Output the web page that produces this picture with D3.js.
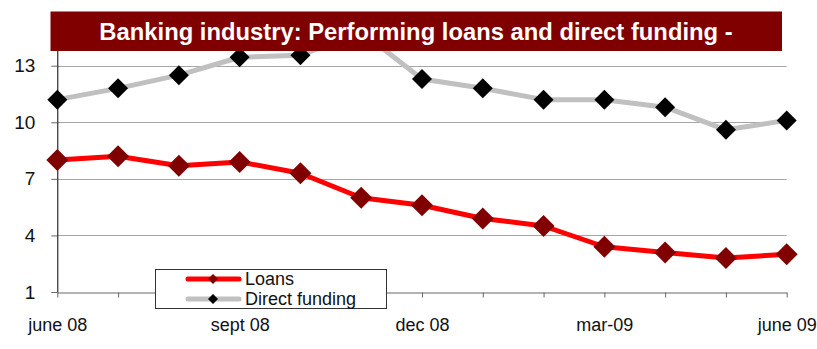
<!DOCTYPE html>
<html>
<head>
<meta charset="utf-8">
<script src="https://cdn.jsdelivr.net/npm/d3@7"></script>
<style>
  body { margin: 0; background: #fff; }
  text { font-family: "Liberation Sans", Arial, sans-serif; }
</style>
</head>
<body>
<div id="chart"></div>
<script>
'use strict';

// chart data
var months = ['june 08', 'jul 08', 'aug 08', 'sept 08', 'oct 08', 'nov 08', 'dec 08',
              'jan 09', 'feb 09', 'mar-09', 'apr 09', 'may 09', 'june 09'];
var loans = [8.0, 8.2, 7.7, 7.9, 7.3, 6.0, 5.6, 4.9, 4.5, 3.4, 3.1, 2.8, 3.0];
var directFunding = [11.2, 11.8, 12.5, 13.45, 13.55, 14.8, 12.3, 11.8, 11.2, 11.2, 10.8, 9.6, 10.1];
var yTicks = [1, 4, 7, 10, 13];
var titleText = 'Banking industry: Performing loans and direct funding -';

var width = 817,
    height = 349;

var svg = d3.select('#chart').append('svg')
    .attr('width', width)
    .attr('height', height);

var x = d3.scalePoint()
    .domain(months)
    .range([57.3, 786.7]);

var y = d3.scaleLinear()
    .domain([1, 15])
    .range([292, 28]);

// gridlines
svg.append('g')
    .selectAll('line')
    .data(yTicks.filter(function(d) { return d > 1; }))
    .enter()
    .append('line')
    .attr('x1', x.range()[0])
    .attr('x2', x.range()[1])
    .attr('y1', function(d) { return Math.round(y(d)) + 0.5; })
    .attr('y2', function(d) { return Math.round(y(d)) + 0.5; })
    .attr('stroke', '#a6a6a6')
    .attr('stroke-width', 1);

// x axis
var xAxis = svg.append('g')
    .attr('transform', 'translate(0,' + (y(1) + 0.5) + ')')
    .call(d3.axisBottom(x)
        .tickSize(5)
        .tickSizeOuter(0)
        .tickPadding(21)
        .tickFormat(function(d, i) { return i % 3 === 0 ? d : ''; }));
xAxis.select('.domain').attr('stroke', '#666');
xAxis.selectAll('.tick line').attr('stroke', '#666');
xAxis.selectAll('text')
    .attr('font-size', 18)
    .attr('font-family', '"Liberation Sans", Arial, sans-serif')
    .attr('fill', '#111');

// y axis
var yAxis = svg.append('g')
    .attr('transform', 'translate(' + (x.range()[0]) + ',0)')
    .call(d3.axisLeft(y)
        .tickValues(yTicks)
        .tickSize(6)
        .tickSizeOuter(0)
        .tickPadding(16));
yAxis.select('.domain').attr('stroke', '#000');
yAxis.selectAll('.tick line').attr('stroke', '#666');
yAxis.selectAll('text')
    .attr('font-size', 19)
    .attr('font-family', '"Liberation Sans", Arial, sans-serif')
    .attr('fill', '#111');

function diamond(r) {
    return 'M0,' + (-r) + 'L' + r + ',0L0,' + r + 'L' + (-r) + ',0Z';
}

var series = [
    {name: 'Loans', values: loans, line: '#ff0000', marker: '#800000', r: 11},
    {name: 'Direct funding', values: directFunding, line: '#c0c0c0', marker: '#000000', r: 10}
];

var line = d3.line()
    .x(function(d, i) { return x(months[i]); })
    .y(function(d) { return y(d); });

series.forEach(function(s) {
    svg.append('path')
        .datum(s.values)
        .attr('d', line)
        .attr('fill', 'none')
        .attr('stroke', s.line)
        .attr('stroke-width', 5)
        .attr('stroke-linejoin', 'round');

    svg.append('g')
        .selectAll('path')
        .data(s.values)
        .enter()
        .append('path')
        .attr('transform', function(d, i) {
            return 'translate(' + x(months[i]) + ',' + y(d) + ')';
        })
        .attr('d', diamond(s.r))
        .attr('fill', s.marker);
});

// title banner
svg.append('rect')
    .attr('x', 50.5)
    .attr('y', 11.5)
    .attr('width', 731.5)
    .attr('height', 39.5)
    .attr('fill', '#800000');

svg.append('text')
    .attr('x', 416)
    .attr('y', 39.5)
    .attr('text-anchor', 'middle')
    .attr('font-size', 23.8)
    .attr('font-weight', 'bold')
    .attr('fill', '#fff')
    .text(titleText);

// legend
var legend = svg.append('g');
legend.append('rect')
    .attr('x', 155.5)
    .attr('y', 269.5)
    .attr('width', 231)
    .attr('height', 39)
    .attr('fill', '#fff')
    .attr('stroke', '#333')
    .attr('stroke-width', 1);

var items = legend.selectAll('g.item')
    .data(series)
    .enter()
    .append('g')
    .attr('class', 'item')
    .attr('transform', function(d, i) { return 'translate(0,' + (279 + i * 20) + ')'; });

items.append('line')
    .attr('x1', 188)
    .attr('x2', 239)
    .attr('stroke', function(d) { return d.line; })
    .attr('stroke-width', 5)
    .attr('stroke-linecap', 'round');

items.append('path')
    .attr('transform', 'translate(213,0)')
    .attr('d', diamond(5))
    .attr('fill', function(d) { return d.marker; });

items.append('text')
    .attr('x', 245)
    .attr('dy', '0.35em')
    .attr('font-size', 18)
    .attr('fill', '#111')
    .text(function(d) { return d.name; });
</script>
</body>
</html>
